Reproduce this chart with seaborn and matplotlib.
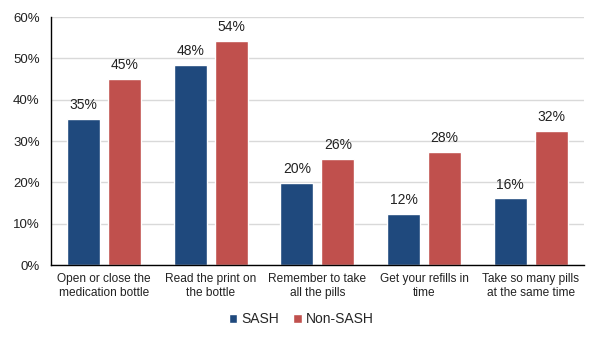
import matplotlib
matplotlib.use("Agg")
import matplotlib.pyplot as plt
import seaborn as sns
import pandas as pd
from matplotlib.ticker import PercentFormatter, MultipleLocator

categories = ["Open or close the\nmedication bottle", "Read the print on\nthe bottle",
              "Remember to take\nall the pills", "Get your refills in\ntime",
              "Take so many pills\nat the same time"]
sash = [35.3, 48.3, 19.9, 12.3, 16.1]
non_sash = [44.9, 54.3, 25.6, 27.4, 32.4]
sash_labels = ["35%", "48%", "20%", "12%", "16%"]
non_sash_labels = ["45%", "54%", "26%", "28%", "32%"]
groups = ["SASH", "Non-SASH"]

df = pd.DataFrame({
    "cat": categories * 2,
    "val": sash + non_sash,
    "grp": [groups[0]] * 5 + [groups[1]] * 5,
})

sns.set_style("white")
plt.rcParams['font.family'] = ['Liberation Sans', 'DejaVu Sans']

fig = plt.figure(figsize=(5.93, 3.37), dpi=100)
ax = fig.add_axes([50.7/593, 1 - 265/337, (584 - 50.7)/593, (265 - 17)/337])

sns.barplot(data=df, x="cat", y="val", hue="grp", palette=["#1F497D", "#C0504D"],
            width=0.77, gap=0.2, ax=ax, legend=True, saturation=1)

for cont, labs in zip(ax.containers, [sash_labels, non_sash_labels]):
    ax.bar_label(cont, labels=labs, padding=5, fontsize=10, color="#222222")

ax.set_ylim(0, 60)
ax.set_xlim(-0.5, 4.5)
ax.yaxis.set_major_locator(MultipleLocator(10))
ax.yaxis.set_major_formatter(PercentFormatter(decimals=0))
ax.grid(axis="y", color="#D9D9D9", linewidth=1)
ax.set_axisbelow(True)
for s in ["top", "right"]:
    ax.spines[s].set_visible(False)
for s in ["left", "bottom"]:
    ax.spines[s].set_color("black")
    ax.spines[s].set_linewidth(1)
ax.tick_params(axis="both", length=0, colors="#222222")
ax.tick_params(axis="x", pad=6, labelsize=8.6)
ax.tick_params(axis="y", pad=8, labelsize=9.5)
ax.set_xlabel("")
ax.set_ylabel("")

ax.legend(loc="center", bbox_to_anchor=(0.47, -0.218), ncol=2, frameon=False,
          fontsize=10, handlelength=0.6, handleheight=0.6, handletextpad=0.3,
          columnspacing=1.0)

fig.savefig("out.png", dpi=100)
